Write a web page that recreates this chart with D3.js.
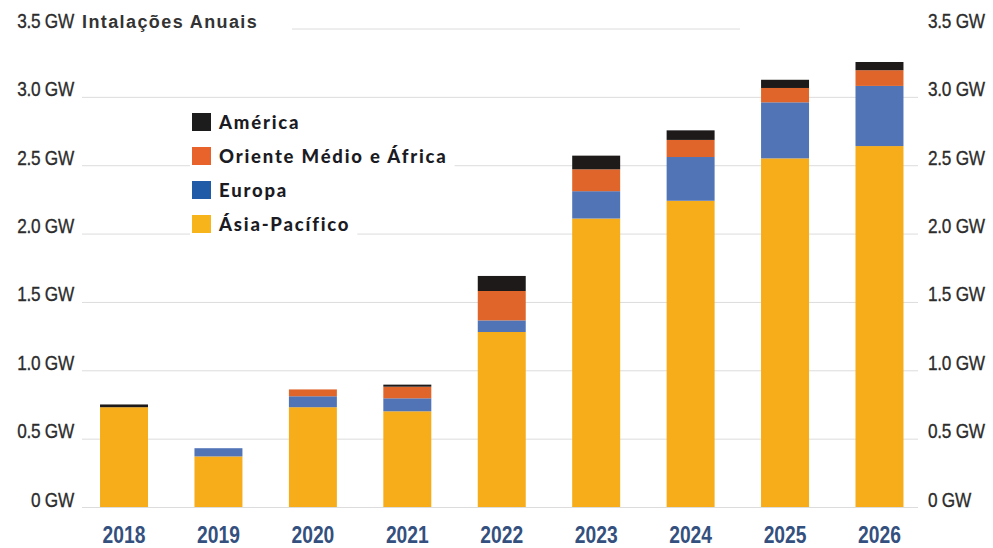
<!DOCTYPE html>
<html>
<head>
<meta charset="utf-8">
<script src="https://cdn.jsdelivr.net/npm/d3@7"></script>
<style>
  body { margin: 0; background: #fff; }
</style>
</head>
<body>
<div id="chart"></div>
<script>
// data (GW)
const years = ["2018", "2019", "2020", "2021", "2022", "2023", "2024", "2025", "2026"];
const asiaPacifico = [0.73, 0.37, 0.73, 0.70, 1.28, 2.11, 2.24, 2.55, 2.64];
const europa = [0.00, 0.06, 0.08, 0.095, 0.085, 0.20, 0.32, 0.41, 0.44];
const orienteMedioAfrica = [0.00, 0.00, 0.05, 0.085, 0.215, 0.16, 0.125, 0.105, 0.115];
const america = [0.02, 0.00, 0.00, 0.015, 0.11, 0.10, 0.07, 0.06, 0.06];

const seriesKeys = ["Ásia-Pacífico", "Europa", "Oriente Médio e África", "América"];
const seriesValues = [asiaPacifico, europa, orienteMedioAfrica, america];
const legendOrder = ["América", "Oriente Médio e África", "Europa", "Ásia-Pacífico"];

const tickValues = [0, 0.5, 1.0, 1.5, 2.0, 2.5, 3.0, 3.5];
const tickLabels = ["0 GW", "0.5 GW", "1.0 GW", "1.5 GW", "2.0 GW", "2.5 GW", "3.0 GW", "3.5 GW"];

const title = "Intalações Anuais";

// sizes
const width = 993;
const height = 548;
const plot = {left: 82, right: 918, top: 28.5, bottom: 507};

const barColors = {
  "Ásia-Pacífico": "#f7ac19",
  "Europa": "#5174b7",
  "Oriente Médio e África": "#e0652a",
  "América": "#1d1a19"
};
const legendColors = {
  "América": "#1c1c1c",
  "Oriente Médio e África": "#e8622b",
  "Europa": "#1f5ba6",
  "Ásia-Pacífico": "#f8b41b"
};

// no condensed face installed, so squeeze Liberation Sans horizontally
const labelFont = "'Liberation Sans', Arial, sans-serif";
const squeeze = "scale(0.82,1)";

const svg = d3.select("#chart")
  .append("svg")
    .attr("width", width)
    .attr("height", height);

// scales
const X_SCALE = d3.scaleBand()
  .domain(years)
  .range([76.8, 926.7])
  .paddingInner(0.492)
  .paddingOuter(0.246);

const Y_SCALE = d3.scaleLinear()
  .domain([0, 3.5])
  .range([plot.bottom, plot.top]);

// gridlines
const grid = svg.append("g")
  .attr("transform", "translate(" + plot.left + ",0)")
  .call(d3.axisRight(Y_SCALE).tickValues(tickValues).tickSize(plot.right - plot.left).tickFormat(""));
grid.select(".domain").remove();
grid.selectAll("line").attr("stroke", "#dcdcdc").attr("stroke-width", 1);

// the top gridline only runs after the title
grid.selectAll(".tick").filter(d => d === 3.5).select("line")
  .attr("x1", 210).attr("x2", 658);

// stacked bars
const table = years.map((y, i) => {
  const row = {year: y};
  seriesKeys.forEach((k, j) => { row[k] = seriesValues[j][i]; });
  return row;
});
const stacked = d3.stack().keys(seriesKeys)(table);

svg.append("g")
  .selectAll("g")
  .data(stacked)
  .enter().append("g")
    .attr("fill", d => barColors[d.key])
  .selectAll("rect")
  .data(d => d)
  .enter().append("rect")
    .attr("x", d => X_SCALE(d.data.year))
    .attr("y", d => Y_SCALE(d[1]))
    .attr("width", X_SCALE.bandwidth())
    .attr("height", d => Y_SCALE(d[0]) - Y_SCALE(d[1]));

// y axis labels, both sides
const fmt = d => tickLabels[tickValues.indexOf(d)];

const leftAxis = svg.append("g")
  .attr("transform", "translate(74,0)")
  .call(d3.axisLeft(Y_SCALE).tickValues(tickValues).tickSize(0).tickPadding(0).tickFormat(fmt));

const rightAxis = svg.append("g")
  .attr("transform", "translate(928,0)")
  .call(d3.axisRight(Y_SCALE).tickValues(tickValues).tickSize(0).tickPadding(0).tickFormat(fmt));

[leftAxis, rightAxis].forEach(ax => {
  ax.select(".domain").remove();
  ax.selectAll("text")
    .attr("x", 0)
    .attr("dy", 0)
    .attr("y", -1)
    .attr("transform", squeeze)
    .style("font-family", labelFont)
    .style("font-size", "21px")
    .style("letter-spacing", "-0.3px")
    .attr("fill", "#2c2c2c")
    .attr("stroke", "#2c2c2c")
    .attr("stroke-width", 0.35);
});

// x axis labels
const xAxis = svg.append("g")
  .attr("transform", "translate(0," + plot.bottom + ")")
  .call(d3.axisBottom(X_SCALE).tickSize(0).tickPadding(0));
xAxis.select(".domain").remove();
xAxis.selectAll("text")
  .attr("y", 36)
  .attr("dy", 0)
  .attr("transform", squeeze)
  .style("font-family", labelFont)
  .style("font-size", "23.5px")
  .style("font-weight", "bold")
  .attr("fill", "#34507e");

// title
svg.append("text")
  .attr("x", 82)
  .attr("y", 28)
  .style("font-family", labelFont)
  .style("font-size", "18px")
  .style("font-weight", "bold")
  .style("letter-spacing", "1.4px")
  .attr("fill", "#333")
  .text(title);

// legend
const legend = svg.append("g").attr("transform", "translate(192,122)");

const item = legend.selectAll(".item")
  .data(legendOrder)
  .enter().append("g")
    .attr("class", "item")
    .attr("transform", (d, i) => "translate(0," + (i * 34) + ")");

const bg = item.append("rect")
  .attr("x", -2)
  .attr("y", -17)
  .attr("height", 34)
  .attr("fill", "#fff");

item.append("rect")
  .attr("x", 0)
  .attr("y", -9)
  .attr("width", 19)
  .attr("height", 18)
  .attr("fill", d => legendColors[d]);

const labels = item.append("text")
  .attr("x", 27)
  .attr("y", 6.5)
  .style("font-family", "Lato, 'Noto Sans', sans-serif")
  .style("font-size", "18.5px")
  .style("font-weight", "900")
  .style("letter-spacing", "1.8px")
  .attr("fill", "#1b1b24")
  .text(d => d);

bg.attr("width", function(d, i) { return labels.nodes()[i].getComputedTextLength() + 36; });
</script>
</body>
</html>
